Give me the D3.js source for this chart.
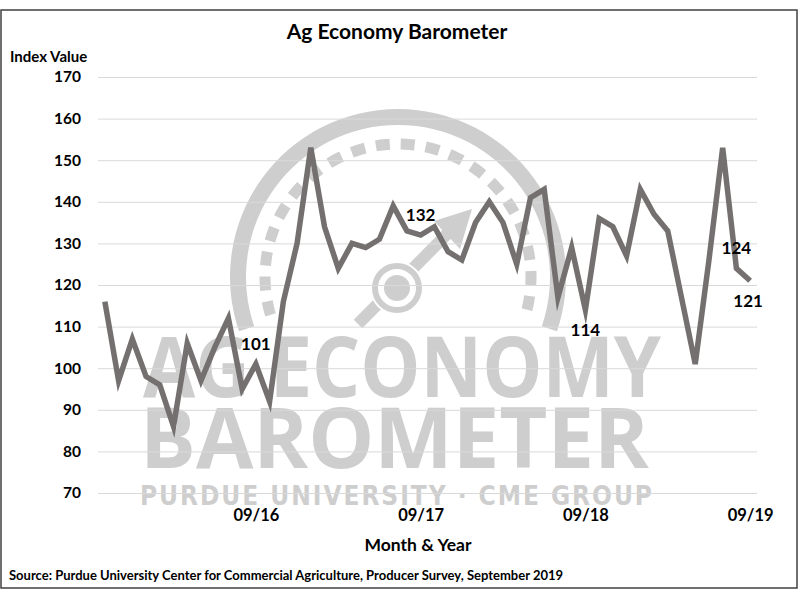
<!DOCTYPE html>
<html>
<head>
<meta charset="utf-8">
<script src="https://cdn.jsdelivr.net/npm/d3@7"></script>
<style>
  body { margin: 0; background: #fff; }
  text { font-family: Lato, "Open Sans", sans-serif; }
</style>
</head>
<body>
<div id="chart"></div>
<script>
// Monthly survey months, Oct 2015 through Sep 2019
const months = [
  '10/15', '11/15', '12/15',
  '01/16', '02/16', '03/16', '04/16', '05/16', '06/16', '07/16', '08/16', '09/16', '10/16', '11/16', '12/16',
  '01/17', '02/17', '03/17', '04/17', '05/17', '06/17', '07/17', '08/17', '09/17', '10/17', '11/17', '12/17',
  '01/18', '02/18', '03/18', '04/18', '05/18', '06/18', '07/18', '08/18', '09/18', '10/18', '11/18', '12/18',
  '01/19', '02/19', '03/19', '04/19', '05/19', '06/19', '07/19', '08/19', '09/19'
];

// Index value for each month
const indexValues = [
  116, 97, 107,
  98, 96, 86, 106, 97, 105, 112, 95, 101, 92, 116, 130,
  153, 134, 124, 130, 129, 131, 139, 133, 132, 134, 128, 126,
  135, 140, 135, 125, 141, 143, 117, 129, 114, 136, 134, 127,
  143, 137, 133, 117, 101, 126, 153, 124, 121
];

const xTickLabels = ['09/16', '09/17', '09/18', '09/19'];
const yTicks = [70, 80, 90, 100, 110, 120, 130, 140, 150, 160, 170];

// months that carry a value label, and where the label sits
const labelMonths = ['09/16', '09/17', '09/18', '08/19', '09/19'];
const labelSides = ['above', 'above', 'below', 'above', 'below'];

const data = months.map((m, i) => ({ month: m, value: indexValues[i] }));

const width = 800, height = 600;
const plot = { left: 98, right: 757, top: 77, bottom: 493 };

const svg = d3.select('#chart').append('svg')
    .attr('width', width)
    .attr('height', height);

svg.append('rect')
    .attr('width', width).attr('height', height)
    .attr('fill', '#fff');

// outer frame
svg.append('rect')
    .attr('x', 1).attr('y', 10)
    .attr('width', 796).attr('height', 578)
    .attr('fill', 'none')
    .attr('stroke', '#404040')
    .attr('stroke-width', 1.5);

const x = d3.scalePoint()
    .domain(months)
    .range([plot.left, plot.right])
    .padding(0.5);

const y = d3.scaleLinear()
    .domain([70, 170])
    .range([plot.bottom, plot.top]);

// ---- watermark (gauge + wordmark) ----
const wmColor = '#cecece';
const wm = svg.append('g').attr('fill', wmColor);
const gauge = wm.append('g').attr('transform', 'translate(398,277)');

gauge.append('path')
    .attr('d', d3.arc()({ innerRadius: 152, outerRadius: 168, startAngle: -1.9, endAngle: 1.9 }));

gauge.append('path')
    .attr('d', d3.arc()({ innerRadius: 133, outerRadius: 133, startAngle: -1.86, endAngle: 1.86 }))
    .attr('fill', 'none')
    .attr('stroke', wmColor)
    .attr('stroke-width', 11)
    .attr('stroke-dasharray', '10 15');

gauge.append('line')
    .attr('x1', -40).attr('y1', 47)
    .attr('x2', 56).attr('y2', -50)
    .attr('stroke', wmColor)
    .attr('stroke-width', 12);

gauge.append('path')
    .attr('d', 'M36,-56 L74,-68 L62,-28 Z');

gauge.append('circle')
    .attr('cx', -1).attr('cy', 11).attr('r', 27)
    .attr('fill', '#fff');
gauge.append('circle')
    .attr('cx', -1).attr('cy', 11).attr('r', 22)
    .attr('fill', 'none')
    .attr('stroke', wmColor)
    .attr('stroke-width', 6);
gauge.append('circle')
    .attr('cx', -1).attr('cy', 11).attr('r', 13);

wm.append('text')
    .attr('x', 143).attr('y', 397)
    .attr('textLength', 518)
    .attr('lengthAdjust', 'spacingAndGlyphs')
    .style('font-family', '"Open Sans", sans-serif')
    .style('font-weight', 700)
    .style('font-size', '84px')
    .text('AG ECONOMY');

wm.append('text')
    .attr('x', 140).attr('y', 468)
    .attr('textLength', 509)
    .attr('lengthAdjust', 'spacingAndGlyphs')
    .style('font-family', '"Open Sans", sans-serif')
    .style('font-weight', 700)
    .style('font-size', '84px')
    .text('BAROMETER');

wm.append('text')
    .attr('x', 140).attr('y', 505)
    .attr('textLength', 512)
    .attr('lengthAdjust', 'spacing')
    .style('font-family', '"DejaVu Sans Condensed", "DejaVu Sans", sans-serif')
    .style('font-weight', 700)
    .style('font-size', '26px')
    .text('PURDUE UNIVERSITY · CME GROUP');

// ---- gridlines + y axis ----
const yAxis = svg.append('g')
    .attr('transform', `translate(${plot.left},0)`)
    .call(d3.axisLeft(y)
        .tickValues(yTicks)
        .tickSize(-(plot.right - plot.left))
        .tickPadding(17));

yAxis.select('.domain').remove();
yAxis.selectAll('.tick line')
    .attr('stroke', '#d9d9d9')
    .attr('stroke-width', 1);
yAxis.selectAll('.tick text')
    .style('font-family', 'Lato, sans-serif')
    .style('font-weight', 700)
    .style('font-size', '15.5px')
    .attr('fill', '#000');

// ---- x axis ----
const xAxis = svg.append('g')
    .attr('transform', `translate(0,${plot.bottom})`)
    .call(d3.axisBottom(x)
        .tickValues(xTickLabels)
        .tickSize(0)
        .tickPadding(16));

xAxis.select('.domain').remove();
xAxis.selectAll('.tick text')
    .style('font-family', 'Lato, sans-serif')
    .style('font-weight', 700)
    .style('font-size', '16.5px')
    .attr('fill', '#000');

// ---- the index line ----
const line = d3.line()
    .x(d => x(d.month))
    .y(d => y(d.value));

svg.append('path')
    .datum(data)
    .attr('d', line)
    .attr('fill', 'none')
    .attr('stroke', '#757070')
    .attr('stroke-width', 5.5)
    .attr('stroke-linejoin', 'miter')
    .attr('stroke-miterlimit', 6);

// value labels
const labelData = labelMonths.map((m, i) => ({
    month: m,
    value: indexValues[months.indexOf(m)],
    side: labelSides[i]
}));

svg.selectAll('.value-label')
    .data(labelData)
    .enter().append('text')
    .attr('class', 'value-label')
    .attr('x', d => x(d.month) + (d.month === '09/19' ? -2 : 0))
    .attr('y', d => y(d.value) + (d.side === 'above' ? -14 : 26))
    .attr('text-anchor', 'middle')
    .style('font-weight', 700)
    .style('font-size', '17px')
    .attr('fill', '#000')
    .text(d => d.value);

// ---- titles ----
svg.append('text')
    .attr('x', 397).attr('y', 39)
    .attr('text-anchor', 'middle')
    .style('font-weight', 700)
    .style('font-size', '21px')
    .text('Ag Economy Barometer');

svg.append('text')
    .attr('x', 10).attr('y', 62)
    .style('font-weight', 700)
    .style('font-size', '15px')
    .text('Index Value');

svg.append('text')
    .attr('x', 418).attr('y', 551)
    .attr('text-anchor', 'middle')
    .style('font-weight', 700)
    .style('font-size', '17.5px')
    .text('Month & Year');

svg.append('text')
    .attr('x', 9).attr('y', 580)
    .style('font-weight', 700)
    .style('font-size', '13px')
    .text('Source: Purdue University Center for Commercial Agriculture, Producer Survey, September 2019');
</script>
</body>
</html>
